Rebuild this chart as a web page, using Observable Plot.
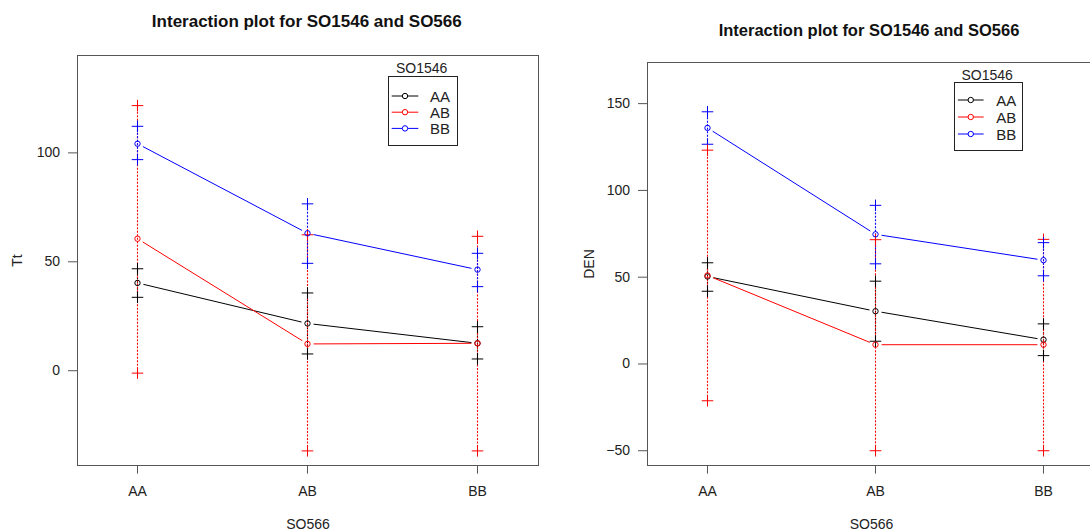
<!DOCTYPE html>
<html>
<head>
<meta charset="utf-8">
<script src="https://cdn.jsdelivr.net/npm/d3@7"></script>
<script src="https://cdn.jsdelivr.net/npm/@observablehq/plot@0.6"></script>
<style>
html, body { margin: 0; padding: 0; background: #fff; }
#root { position: relative; width: 1090px; height: 532px; overflow: hidden; font-family: "Liberation Sans", Arial, sans-serif; }
.panel { position: absolute; top: 40px; }
.title { position: absolute; font-weight: bold; white-space: nowrap; transform: translate(-50%, -50%); color: #111; }
.legend { position: absolute; left: 0; top: 0; overflow: visible; }
</style>
</head>
<body>
<div id="root"></div>
<script>
// ---- data ----
const xLevels = ["AA", "AB", "BB"];          // SO566 levels (x axis)
const groupLevels = ["AA", "AB", "BB"];      // SO1546 levels (traces)
const groupColors = ["#000000", "#ff0000", "#0000ff"];

// Tt panel: rows = SO1546 group (AA, AB, BB); columns = SO566 level (AA, AB, BB)
const ttMean = [[40.3, 21.7, 12.6], [60.6, 12.3, 12.6], [104.2, 63.1, 46.4]];
const ttLow  = [[33.7, 7.7, 5.4], [-1.1, -36.8, -36.8], [96.9, 49.3, 38.6]];
const ttHigh = [[46.8, 35.7, 20.2], [121.7, 62.4, 61.7], [112.2, 76.6, 53.9]];
const ttTicks = [0, 50, 100];

// DEN panel
const denMean = [[50.4, 30.4, 14.0], [51.0, 11.1, 11.1], [136.0, 74.7, 59.8]];
const denLow  = [[41.9, 13.1, 4.8], [-21.2, -50, -50], [126.6, 57.7, 50.8]];
const denHigh = [[58.3, 47.7, 23.1], [123.2, 71.6, 71.8], [145.3, 91.4, 69.9]];
const denTicks = [-50, 0, 50, 100, 150];

const titleText = "Interaction plot for SO1546 and SO566";
const xLabel = "SO566";
const legendTitle = "SO1546";

// ---- helpers ----
function rowsFor(mean, low, high) {
  const rows = [];
  groupLevels.forEach((g, gi) => xLevels.forEach((x, xi) =>
    rows.push({group: g, x, mean: mean[gi][xi], low: low[gi][xi], high: high[gi][xi]})));
  return rows;
}
function segsFor(rows) {
  const segs = [];
  groupLevels.forEach(g => {
    const r = rows.filter(d => d.group === g);
    for (let i = 0; i < r.length - 1; i++)
      segs.push({group: g, x1: r[i].x, x2: r[i + 1].x, y1: r[i].mean, y2: r[i + 1].mean});
  });
  return segs;
}

const root = document.getElementById("root");

function addPanel(cfg) {
  const rows = rowsFor(cfg.mean, cfg.low, cfg.high);
  const segs = segsFor(rows);
  const div = document.createElement("div");
  div.className = "panel";
  div.style.left = cfg.left + "px";
  div.style.width = cfg.width + "px";
  div.style.height = "492px";
  const chart = Plot.plot({
    width: cfg.width,
    height: 492,
    marginLeft: cfg.marginLeft,
    marginRight: cfg.marginRight,
    marginTop: cfg.marginTop,
    marginBottom: 67,
    style: {fontFamily: "'Liberation Sans', Arial, sans-serif", fontSize: "14px", color: "#222", background: "transparent", maxWidth: "none", overflow: "visible"},
    x: {type: "point", domain: xLevels, range: cfg.xRange, padding: 0},
    y: {domain: cfg.yDomain},
    color: {domain: groupLevels, range: groupColors},
    marks: [
      Plot.frame({stroke: "#555"}),
      Plot.axisY(cfg.ticks, {tickSize: 9, tickPadding: 8.5, stroke: "#555", label: cfg.yLabel, labelAnchor: "center", labelArrow: "none", labelOffset: cfg.yLabelOffset}),
      Plot.axisX({tickSize: 8.6, tickPadding: 12, stroke: "#555", label: xLabel, labelAnchor: "center", labelArrow: "none", labelOffset: 63}),
      Plot.ruleX(rows, {x: "x", y1: "low", y2: "high", stroke: "group", strokeWidth: 1.1, strokeDasharray: "2,1.5"}),
      Plot.arrow(segs, {x1: "x1", y1: "y1", x2: "x2", y2: "y2", stroke: "group", strokeWidth: 1, headLength: 0, inset: 6.5}),
      Plot.dot(rows, {x: "x", y: "low", symbol: "plus", r: 3.8, stroke: "group", strokeWidth: 1}),
      Plot.dot(rows, {x: "x", y: "high", symbol: "plus", r: 3.8, stroke: "group", strokeWidth: 1}),
      Plot.dot(rows, {x: "x", y: "mean", r: 2.7, stroke: "group", fill: "none", strokeWidth: 1})
    ]
  });
  div.appendChild(chart);
  root.appendChild(div);

  // title
  const t = document.createElement("div");
  t.className = "title";
  t.textContent = titleText;
  t.style.left = cfg.titleX + "px";
  t.style.top = cfg.titleY + "px";
  t.style.fontSize = cfg.titleSize + "px";
  root.appendChild(t);

  // legend (R-style boxed legend inside the plot region)
  const L = cfg.legend;
  const svg = d3.select(root).append("svg")
    .attr("class", "legend")
    .attr("width", 1090).attr("height", 532)
    .style("font-family", "'Liberation Sans', Arial, sans-serif");
  svg.append("rect")
    .attr("x", L.x + 0.5).attr("y", L.y + 0.5)
    .attr("width", L.w).attr("height", L.h)
    .attr("fill", "white").attr("stroke", "#222").attr("stroke-width", 1);
  svg.append("text")
    .attr("x", L.titleX).attr("y", L.titleY)
    .attr("text-anchor", "middle").attr("dominant-baseline", "central")
    .attr("font-size", 14).attr("fill", "#222").text(legendTitle);
  groupLevels.forEach((g, i) => {
    const y = L.y0 + i * L.dy;
    svg.append("line")
      .attr("x1", L.lx1).attr("x2", L.lx2).attr("y1", y).attr("y2", y)
      .attr("stroke", groupColors[i]).attr("stroke-width", 1);
    svg.append("circle")
      .attr("cx", (L.lx1 + L.lx2) / 2).attr("cy", y).attr("r", 2.7)
      .attr("fill", "white").attr("stroke", groupColors[i]).attr("stroke-width", 1);
    svg.append("text")
      .attr("x", L.tx).attr("y", y)
      .attr("dominant-baseline", "central")
      .attr("font-size", 15).attr("fill", "#222").text(g);
  });
}

addPanel({
  mean: ttMean, low: ttLow, high: ttHigh, ticks: ttTicks, yLabel: "Tt",
  left: 0, width: 560, marginLeft: 77, marginRight: 22, marginTop: 15,
  xRange: [136.5, 476.5], yDomain: [-43.5, 144.7], yLabelOffset: 65,
  titleX: 306.8, titleY: 21.5, titleSize: 17,
  legend: {x: 388, y: 76, w: 69, h: 69, titleX: 421.7, titleY: 68, y0: 96, dy: 16.2, lx1: 391.7, lx2: 418.3, tx: 430}
});

addPanel({
  mean: denMean, low: denLow, high: denHigh, ticks: denTicks, yLabel: "DEN",
  left: 545, width: 560, marginLeft: 102, marginRight: 10, marginTop: 22,
  xRange: [161.5, 497.5], yDomain: [-58.5, 173.7], yLabelOffset: 63,
  titleX: 869, titleY: 29.5, titleSize: 16.5,
  legend: {x: 954, y: 82, w: 68, h: 68, titleX: 987.1, titleY: 75, y0: 100, dy: 17, lx1: 957.9, lx2: 983.6, tx: 996.2}
});
</script>
</body>
</html>
